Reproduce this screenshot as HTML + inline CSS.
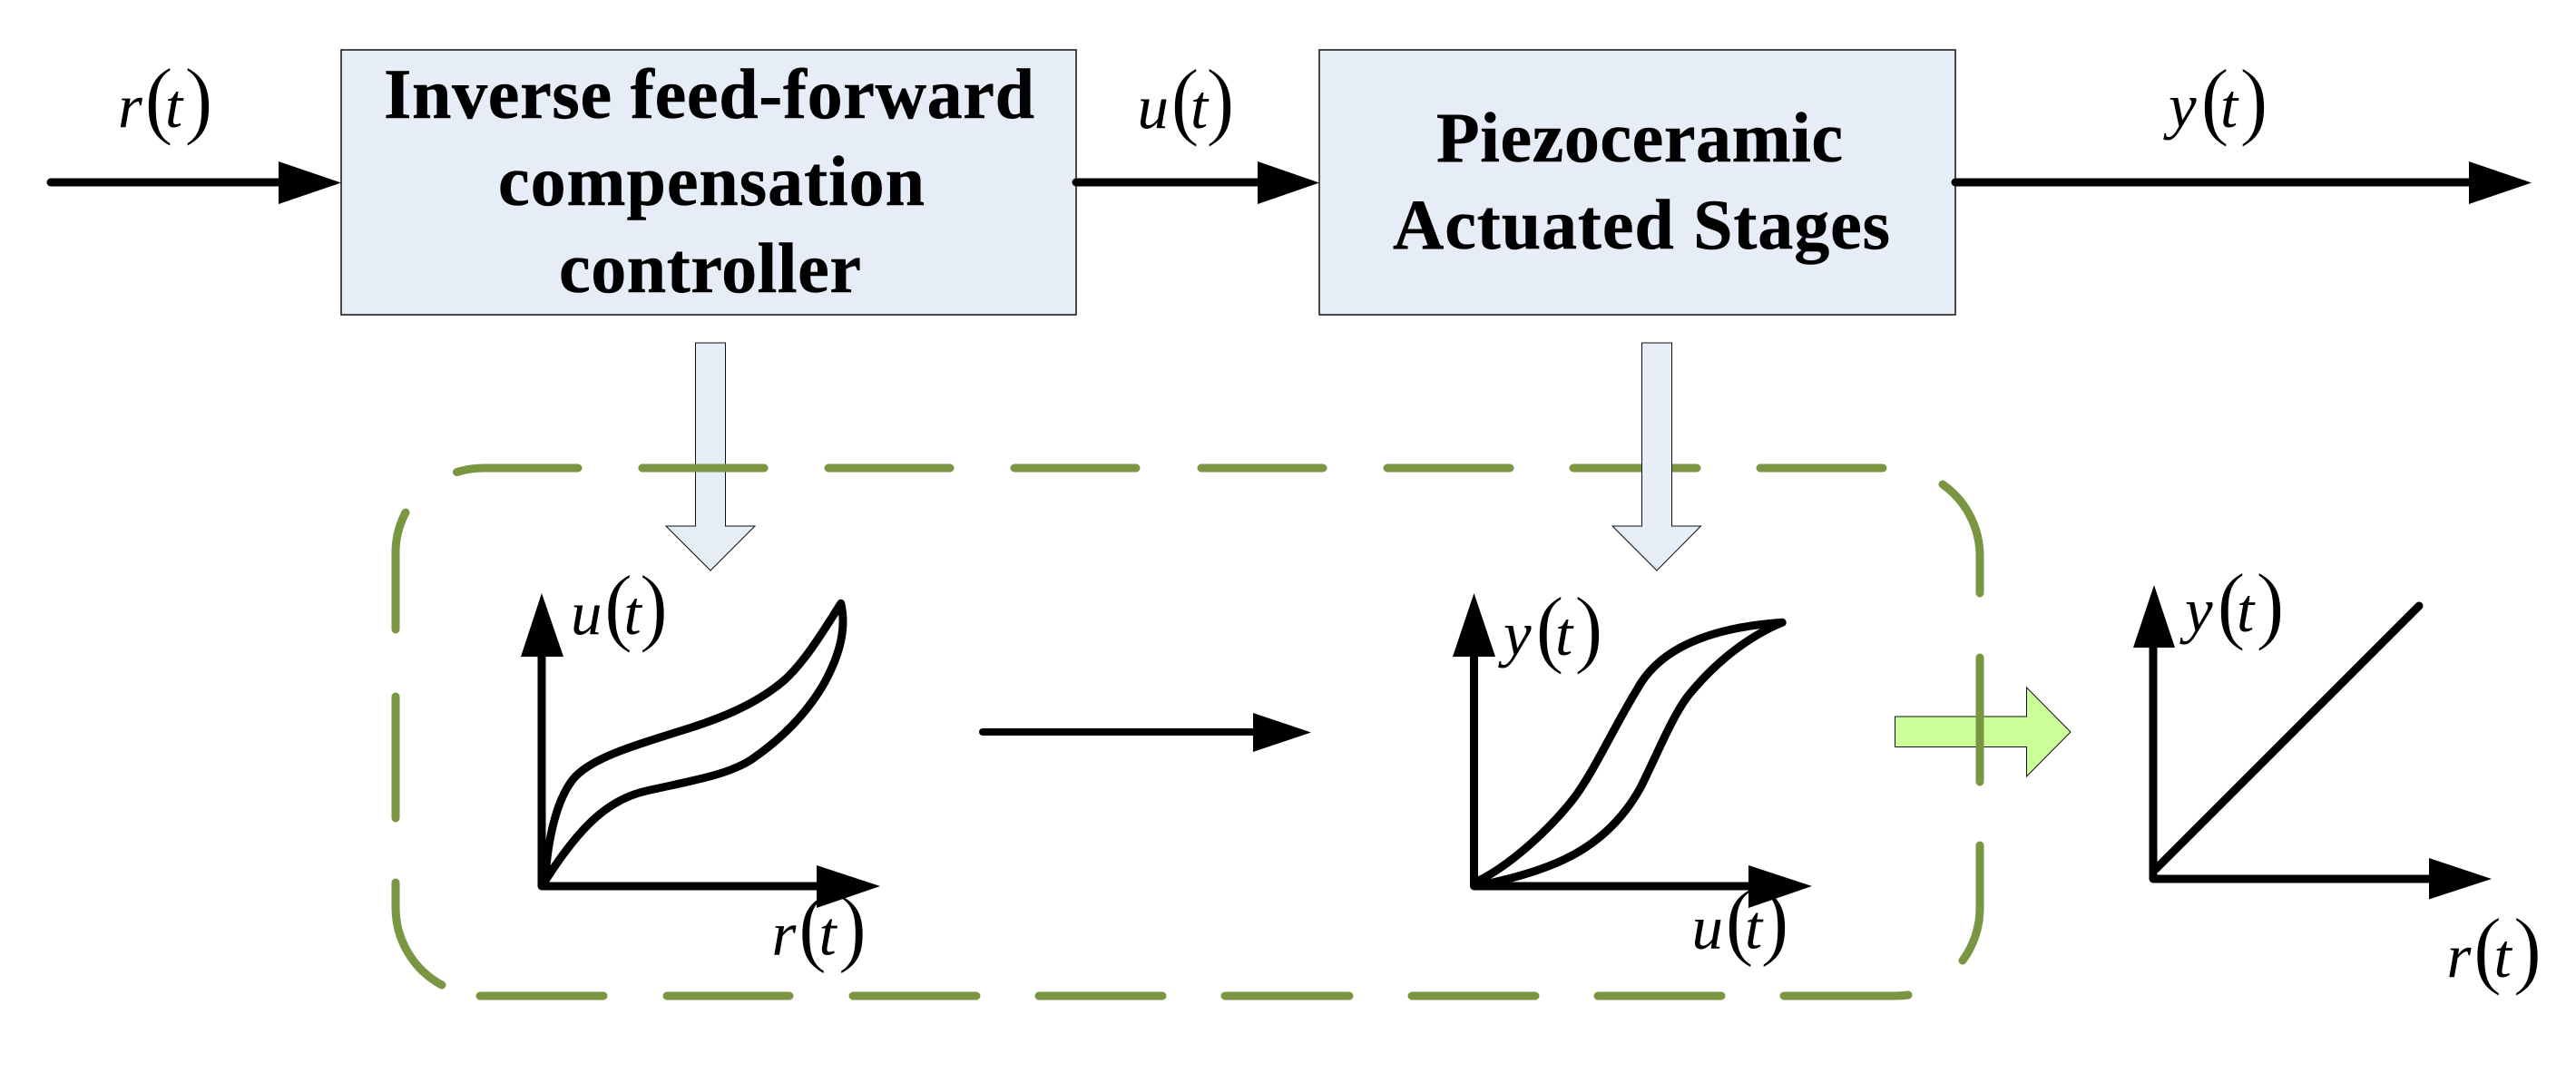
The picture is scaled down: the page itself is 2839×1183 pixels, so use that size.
<!DOCTYPE html>
<html>
<head>
<meta charset="utf-8">
<style>
html,body{margin:0;padding:0;background:#fff}
svg{display:block}
.b{font-family:"Liberation Serif",serif;font-weight:bold;font-size:78px;fill:#000;stroke:#000;stroke-width:.5}
.i{font-family:"Liberation Serif",serif;font-style:italic;font-size:69px;fill:#000}
.p{font-family:"Liberation Serif",serif;font-size:96px;fill:#000;stroke:#fff;stroke-width:1.2}
</style>
</head>
<body>
<svg width="2839" height="1183" viewBox="0 0 2839 1183" xmlns="http://www.w3.org/2000/svg">
<rect width="2839" height="1183" fill="#fff"/>

<!-- labels drawn first so the thinned parens never clip the arrowheads -->
<g>
<text class="i" x="130" y="140">r</text><text class="p" x="159" y="141">(</text><text class="i" x="182" y="140">t</text><text class="p" x="203" y="141">)</text>
</g>
<g>
<text class="i" x="1253.5" y="141">u</text><text class="p" x="1290" y="142">(</text><text class="i" x="1312" y="141">t</text><text class="p" x="1329" y="142">)</text>
</g>
<g>
<text class="i" x="2390" y="140">y</text><text class="p" x="2425" y="142">(</text><text class="i" x="2447" y="140">t</text><text class="p" x="2468" y="142">)</text>
</g>
<g transform="translate(-624.5,558)">
<text class="i" x="1253.5" y="141">u</text><text class="p" x="1290" y="142">(</text><text class="i" x="1312" y="141">t</text><text class="p" x="1329" y="142">)</text>
</g>
<g transform="translate(720.5,912.5)">
<text class="i" x="130" y="140">r</text><text class="p" x="159" y="141">(</text><text class="i" x="182" y="140">t</text><text class="p" x="203" y="141">)</text>
</g>
<g transform="translate(-733,582)">
<text class="i" x="2390" y="140">y</text><text class="p" x="2425" y="142">(</text><text class="i" x="2447" y="140">t</text><text class="p" x="2468" y="142">)</text>
</g>
<g transform="translate(611,904.5)">
<text class="i" x="1253.5" y="141">u</text><text class="p" x="1290" y="142">(</text><text class="i" x="1312" y="141">t</text><text class="p" x="1329" y="142">)</text>
</g>
<g transform="translate(18,556)">
<text class="i" x="2390" y="140">y</text><text class="p" x="2425" y="142">(</text><text class="i" x="2447" y="140">t</text><text class="p" x="2468" y="142">)</text>
</g>
<g transform="translate(2566.5,937)">
<text class="i" x="130" y="140">r</text><text class="p" x="159" y="141">(</text><text class="i" x="182" y="140">t</text><text class="p" x="203" y="141">)</text>
</g>

<!-- top boxes -->
<rect x="376" y="55" width="810" height="292" fill="#E6EDF7" stroke="#111" stroke-width="1.5"/>
<rect x="1454" y="55" width="701" height="292" fill="#E6EDF7" stroke="#111" stroke-width="1.5"/>
<text class="b" x="423" y="130" textLength="717" lengthAdjust="spacing">Inverse feed-forward</text>
<text class="b" x="549" y="226" textLength="470" lengthAdjust="spacing">compensation</text>
<text class="b" x="616" y="322" textLength="333" lengthAdjust="spacing">controller</text>
<text class="b" x="1583" y="178" textLength="448" lengthAdjust="spacing">Piezoceramic</text>
<text class="b" x="1535" y="274" textLength="548" lengthAdjust="spacing">Actuated Stages</text>

<!-- top arrows -->
<g stroke="#000" stroke-width="9" stroke-linecap="round" fill="none">
<path d="M56 201H310"/><path d="M1186 201H1390"/><path d="M2155 201H2725"/>
</g>
<g fill="#000">
<path d="M307 178L376 201.5L307 225Z"/>
<path d="M1386 178L1454 201.5L1386 225Z"/>
<path d="M2721 178L2790 201.5L2721 225Z"/>
</g>

<!-- dashed rounded frame -->
<g stroke="#7B9643" stroke-width="9" stroke-linecap="round" fill="none">
<path d="M503.5 520.5Q518 516 533 516L637 516"/>
<path d="M708 516H842M913 516H1047M1118 516H1252M1324 516H1458M1529 516H1664M1734 516H1870M1940 516H2075"/>
<path d="M2141 534A97 97 0 0 1 2182 613L2182 654"/>
<path d="M2182 932L2182 1001A97 97 0 0 1 2163 1059"/>
<path d="M1966 1098L2085 1098Q2095 1098 2103 1097"/>
<path d="M1761 1098H1897M1556 1098H1692M1350 1098H1487M1145 1098H1281M940 1098H1076M735 1098H870M529 1098H665"/>
<path d="M487 1086A97 97 0 0 1 436 1001L436 973"/>
<path d="M436 902V768"/>
<path d="M436 694L436 613A97 97 0 0 1 447 565"/>
</g>
<path d="M1809.5 378H1842.5V580H1874.5L1826 629L1777 580H1809.5Z" fill="#E6EDF7" stroke="#111" stroke-width="1"/>
<path d="M766.5 378H799.5V580H832L783 629L734 580H766.5Z" fill="#E6EDF7" stroke="#111" stroke-width="1"/>
<path d="M708 516H842" stroke="#7B9643" stroke-width="9" stroke-linecap="round" fill="none"/>

<!-- green arrow -->
<path d="M2088.5 790H2233.5V758L2282 807L2233.5 856V823.5H2088.5Z" fill="#CCFF99" stroke="#111" stroke-width="1"/>
<path d="M2182 725V862" stroke="#7B9643" stroke-width="9" stroke-linecap="round" fill="none"/>

<!-- middle arrow -->
<path d="M1083 807H1385" stroke="#000" stroke-width="8" stroke-linecap="round" fill="none"/>
<path d="M1381 786L1445 807.5L1381 829Z" fill="#000"/>

<!-- plot 1 -->
<g fill="none" stroke="#000" stroke-width="9" stroke-linejoin="round" stroke-linecap="round">
<path d="M597 720V977H905"/>
</g>
<g transform="translate(400,480) scale(0.4464)" fill="none" stroke="#000" stroke-width="20" stroke-linejoin="round" stroke-linecap="round">
<path d="M450 1095C455 1020 472 900 525 842C570 797 650 772 800 725C880 700 970 665 1040 605C1085 565 1130 495 1180 415C1195 480 1175 545 1140 610C1100 680 1040 745 960 800C900 840 800 855 700 878C600 900 530 975 450 1100Z"/>
</g>
<path d="M597 654L621 724H574Z" fill="#000"/>
<path d="M970 977L900 1001V954Z" fill="#000"/>

<!-- plot 2 -->
<g fill="none" stroke="#000" stroke-width="9" stroke-linejoin="round" stroke-linecap="round">
<path d="M1624.5 720V977H1932"/>
</g>
<g transform="translate(1500,480) scale(0.4464)" fill="none" stroke="#000" stroke-width="20" stroke-linejoin="round" stroke-linecap="round">
<path d="M290 1100C370 1060 470 970 530 890C580 820 625 720 680 630C720 555 810 478 1040 462C960 495 880 555 810 640C770 690 730 790 690 870C640 960 570 1020 480 1057C420 1082 360 1097 300 1110"/>
</g>
<path d="M1624.5 654L1648 724H1601Z" fill="#000"/>
<path d="M1997 977L1927 1001V954Z" fill="#000"/>

<!-- plot 3 -->
<g fill="none" stroke="#000" stroke-width="9" stroke-linejoin="round" stroke-linecap="round">
<path d="M2373 710V969H2680"/>
<path d="M2376 958L2666 668"/>
</g>
<path d="M2374 645L2397 714H2351Z" fill="#000"/>
<path d="M2746 969L2677 991.5V946Z" fill="#000"/>
</svg>
</body>
</html>
